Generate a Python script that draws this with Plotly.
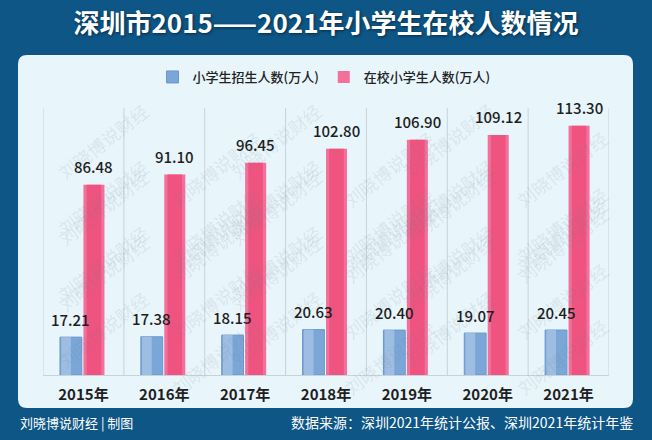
import plotly.graph_objects as go

years = ["2015年", "2016年", "2017年", "2018年", "2019年", "2020年", "2021年"]
enroll = [17.21, 17.38, 18.15, 20.63, 20.40, 19.07, 20.45]
in_school = [86.48, 91.10, 96.45, 102.80, 106.90, 109.12, 113.30]
name_enroll = "小学生招生人数(万人)"
name_school = "在校小学生人数(万人)"
title_text = "深圳市2015——2021年小学生在校人数情况"
footer_left = "刘晓博说财经 | 制图"
footer_right = "数据来源：深圳2021年统计公报、深圳2021年统计年鉴"
watermark = "刘晓博说财经"

W, H = 652, 440
L, R, T, B = 43, 609, 108, 375
FONT = "Noto Sans CJK SC"

def px(x):
    return (x - L) / (R - L)

def py(y):
    return (B - y) / (B - T)

xs = list(range(len(years)))
fig = go.Figure()

fig.add_trace(go.Bar(x=xs, y=enroll, name=name_enroll, width=0.27, offset=-0.29,
                     marker=dict(color="#7aa6d8", line=dict(color="#6b97cd", width=1)),
                     hoverinfo="skip"))
fig.add_trace(go.Bar(x=xs, y=enroll, width=0.12, offset=-0.275, showlegend=False,
                     marker=dict(color="#9dbde3", line=dict(width=0)), hoverinfo="skip"))
fig.add_trace(go.Bar(x=xs, y=in_school, name=name_school, width=0.26, offset=0.0,
                     marker=dict(color="#f2709a", line=dict(width=0)), hoverinfo="skip"))
fig.add_trace(go.Bar(x=xs, y=in_school, width=0.18, offset=0.04, showlegend=False,
                     marker=dict(color="#ef537f", line=dict(width=0)), hoverinfo="skip"))

shapes = []
# panel with rounded corners
x0, x1, y0, y1 = px(18), px(633), py(408), py(55)
rx, ry = 9 / (R - L), 9 / (B - T)
path = (f"M {x0+rx},{y0} L {x1-rx},{y0} Q {x1},{y0} {x1},{y0+ry} "
        f"L {x1},{y1-ry} Q {x1},{y1} {x1-rx},{y1} L {x0+rx},{y1} "
        f"Q {x0},{y1} {x0},{y1-ry} L {x0},{y0+ry} Q {x0},{y0} {x0+rx},{y0} Z")
shapes.append(dict(type="path", path=path, xref="paper", yref="paper",
                   fillcolor="#e8f5fb", line=dict(width=0), layer="below"))
for k in range(len(years) + 1):
    shapes.append(dict(type="line", xref="x", yref="paper", x0=k - 0.5, x1=k - 0.5,
                       y0=0, y1=1, line=dict(color="#c8d2d9", width=1), layer="below"))

ann = []
# watermarks
for c in range(6):
    for r in range(7):
        yy = 95 + 56 * r + (28 if c % 2 else 0)
        if yy > 405:
            continue
        ann.append(dict(x=px(50 + 113 * c), y=py(yy), xref="paper", yref="paper",
                        text=watermark, showarrow=False, textangle=-38,
                        font=dict(family=FONT, size=18, color="rgba(120,130,140,0.15)")))
for i, v in enumerate(enroll):
    ann.append(dict(x=i - 0.155, y=v, xref="x", yref="y", text=f"{v:.2f}", showarrow=False,
                    yshift=18, font=dict(family=FONT, size=15, color="#1e1e1e", weight=500)))
for i, v in enumerate(in_school):
    ann.append(dict(x=i + 0.13, y=v, xref="x", yref="y", text=f"{v:.2f}", showarrow=False,
                    yshift=18, font=dict(family=FONT, size=15, color="#1e1e1e", weight=500)))
ann.append(dict(x=px(18), y=py(422), xref="paper", yref="paper", text=footer_left,
                showarrow=False, xanchor="left", yanchor="middle",
                font=dict(family=FONT, size=13, color="white")))
ann.append(dict(x=px(635), y=py(422), xref="paper", yref="paper", text=footer_right,
                showarrow=False, xanchor="right", yanchor="middle",
                font=dict(family=FONT, size=14, color="white")))

fig.update_layout(
    width=W, height=H,
    margin=dict(l=L, r=W - R, t=T, b=H - B, pad=0),
    paper_bgcolor="#0d5686", plot_bgcolor="rgba(0,0,0,0)",
    barmode="overlay",
    title=dict(text=title_text, x=0.5, xanchor="center", xref="paper",
               y=1 - 24 / H, yref="container", yanchor="middle",
               font=dict(family=FONT, size=26, color="white", weight="bold",
                         shadow="1px 1px 3px rgba(0,0,0,0.5)")),
    legend=dict(orientation="h", x=px(324), xanchor="center", y=py(77), yanchor="middle",
                font=dict(family=FONT, size=13, color="#222222", weight=500),
                bgcolor="rgba(0,0,0,0)", itemwidth=30, traceorder="normal"),
    xaxis=dict(range=[-0.5, len(years) - 0.5], tickvals=xs, ticktext=years,
               showgrid=False, zeroline=False, showline=True, linecolor="#c8d2d9",
               ticks="outside", ticklen=6, tickcolor="rgba(0,0,0,0)",
               tickfont=dict(family=FONT, size=15, color="#1e1e1e", weight="bold")),
    yaxis=dict(range=[0, (B - T) / 2.2], visible=False, showgrid=False, zeroline=False),
    shapes=shapes, annotations=ann, showlegend=True,
)

fig.write_html("out.html", config={"displayModeBar": False},
               post_script="document.body.style.margin='0';")
